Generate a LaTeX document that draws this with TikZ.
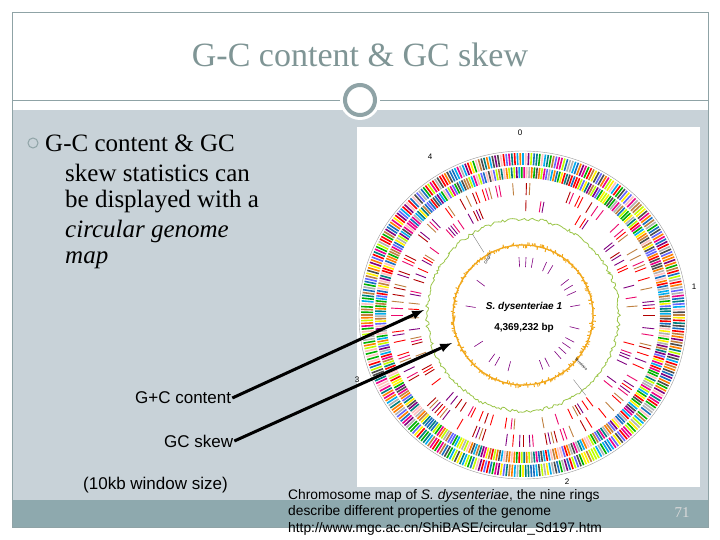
\documentclass[tikz,border=0pt]{standalone}
\usepackage{fontspec}
\setsansfont{Liberation Sans}
\setmainfont{Liberation Serif}
\usetikzlibrary{calc}
\definecolor{frame}{HTML}{8FA3A6}
\definecolor{panel}{HTML}{C8D2D8}
\definecolor{band}{HTML}{8EA9AE}
\definecolor{ttl}{HTML}{7F9595}
\definecolor{gcg}{HTML}{9CC64A}
\definecolor{gco}{HTML}{F2A81C}
\begin{document}
\begin{tikzpicture}[x=1pt,y=-1pt,
  lbl/.style={font=\sffamily\fontsize{17}{18}\selectfont,anchor=west,inner sep=1pt},
  captxt/.style={font=\sffamily\fontsize{13.8}{16.5}\selectfont,anchor=west},
  body/.style={font=\fontsize{25}{26}\selectfont,anchor=west,inner sep=0pt},
  arr/.style={line width=3pt,-latex},
  tick/.style={font=\sffamily\fontsize{8}{8}\selectfont}]
\useasboundingbox (0,0) rectangle (720,540);
\fill[white] (0,0) rectangle (720,540);
\fill[panel] (12,110) rectangle (708,500);
\fill[band] (12,500) rectangle (708,527);
\draw[frame] (12,12) rectangle (708,527);
\draw[frame] (12,100) -- (708,100);
\fill[white] (360,100) circle (20);
\draw[frame,line width=4pt] (360,100) circle (15);
\node[font=\fontsize{34}{36}\selectfont,text=ttl] (title) at (360,55) {G-C content \& GC skew};
% body text
\draw[frame,line width=1pt] (33,143) circle (5);
\node[body] (b1) at (45,143) {G-C content \& GC};
\node[body] (b2) at (65,173) {skew statistics can};
\node[body] (b3) at (65,202) {be displayed with a};
\node[body] (b4) at (65,231) {\itshape circular genome};
\node[body] (b5) at (65,260) {\itshape map};
% image
\fill[white] (357,127) rectangle (700,487);
\coordinate (C) at (523,315);
\pgfmathsetseed{7}
\pgfmathdeclarerandomlist{cols}{{red}{cyan}{yellow}{green!70!black}{magenta}{blue!60}{orange}{violet}{teal}{black!70}{lime}{pink}{brown}{cyan!50!blue}{black!30}}
\pgfmathdeclarerandomlist{reds}{{red}{red!70!black}{brown}{magenta!70!red}{violet}}
\draw[black!40,line width=0.4pt] (C) circle (164);
\foreach \a in {0,1,...,359}{
  \pgfmathrandomitem{\c}{cols}
  \draw[\c,line width=1.6pt] (C) ++(\a:150) -- ++(\a:12);
  \pgfmathrandomitem{\c}{cols}
  \draw[\c,line width=1.6pt] (C) ++(\a+0.5:137) -- ++(\a+0.5:11);
}
\foreach \a in {0,1.5,...,359}{
  \pgfmathsetmacro\rr{rnd}
  \pgfmathrandomitem{\c}{reds}
  \ifdim\rr pt>0.55pt \draw[\c,line width=0.9pt] (C) ++(\a:120) -- ++(\a:12); \fi
  \pgfmathsetmacro\rr{rnd}
  \pgfmathrandomitem{\c}{reds}
  \ifdim\rr pt>0.65pt \draw[\c,line width=0.9pt] (C) ++(\a:104) -- ++(\a:11); \fi
}
\draw[gcg,line width=0.8pt,shift={(C)}] plot[domain=0:360,samples=300] (\x:{96+3.6*rnd-1.8});
\foreach \a in {0,1,...,359}{
  \draw[gco,line width=1pt] (C) ++(\a:{70}) -- ++(\a:{7*rnd-3.5});
}
\draw[gco,line width=1.2pt] (C) circle (70);
\foreach \a in {0,7,...,359}{
  \pgfmathsetmacro\rr{rnd}
  \ifdim\rr pt>0.55pt \draw[violet,line width=0.6pt] (C) ++(\a:48) -- ++(\a:10); \fi
}
\draw[black!60,line width=0.3pt] (C) ++(-122:74) -- ++(-122:22);
\draw[black!60,line width=0.3pt] (C) ++(52:82) -- ++(52:20);
\node[font=\sffamily\fontsize{4}{4}\selectfont,rotate=62] (ori) at ($(C)+(-122:66)$) {Origin};
\node[font=\sffamily\fontsize{4}{4}\selectfont,rotate=-45] (ter) at ($(C)+(40:76)$) {Terminus};
\node[font=\sffamily\bfseries\itshape\fontsize{10}{10}\selectfont] (sp) at (524,307) {S. dysenteriae 1};
\node[font=\sffamily\bfseries\fontsize{10}{10}\selectfont] (bp) at (524,328) {4,369,232 bp};
\node[tick] (n0) at (520,133) {0};
\node[tick] (n1) at (694,287) {1};
\node[tick] (n2) at (567,482) {2};
\node[tick] (n3) at (357,380) {3};
\node[tick] (n4) at (430,157) {4};
% labels and arrows
\node[lbl] (gc) at (134,398) {G+C content};
\node[lbl] (sk) at (163,441) {GC skew};
\node[lbl] (win) at (82,485) {(10kb window size)};
\coordinate (t1) at (424,310);
\coordinate (t2) at (452,343);
\draw[arr] (gc.east) -- (t1);
\draw[arr] (sk.east) -- (t2);
\node[captxt,align=left,anchor=north west,inner sep=0pt] (cap) at (288,489)
 {Chromosome map of \textit{S. dysenteriae}, the nine rings\\describe different properties of the genome\\http://www.mgc.ac.cn/ShiBASE/circular\_Sd197.htm};
\node[text=white!85!black,font=\fontsize{15}{16}\selectfont] (pg) at (682,513) {71};
\end{tikzpicture}
\end{document}
